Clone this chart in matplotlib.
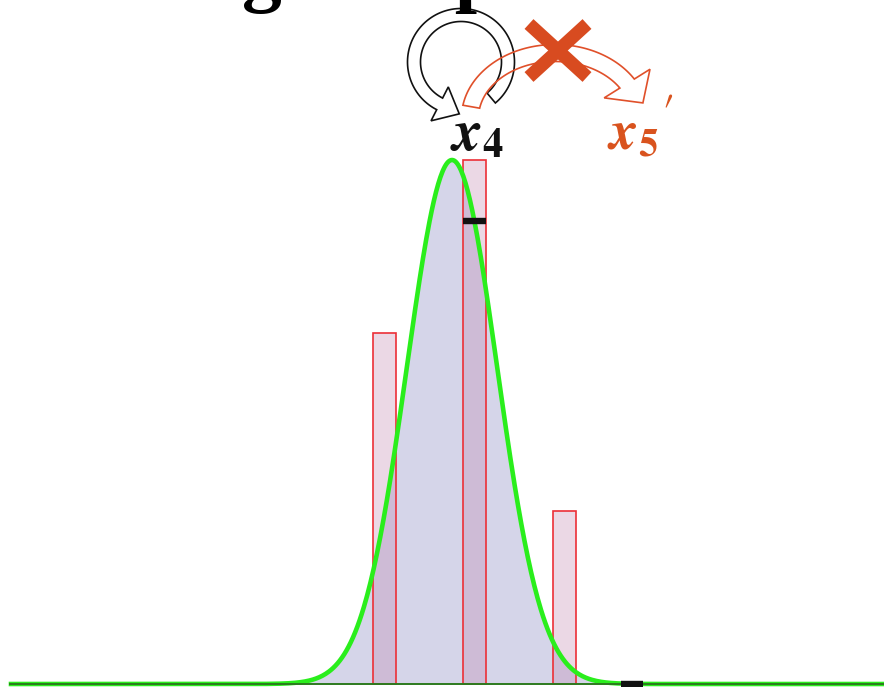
import numpy as np
import matplotlib
matplotlib.use("Agg")
import matplotlib.pyplot as plt
from matplotlib.patches import Polygon

plt.rcParams['mathtext.fontset'] = 'stix'

# ---- data (x in units of sigma, y scaled so the density peak is 1) ----
mu = 0.0
sigma = 1.0
bar_x = [-1.5, 0.5, 2.5]
bar_heights = [0.67, 1.0, 0.33]
bar_width = 0.5
mark_x = [0.5, 4.0]
mark_y = [0.884, 0.0]
title = "Taking a step"
# -----------------------------------------------------------------------

fig = plt.figure(figsize=(8.84, 6.87), dpi=100)
ax = fig.add_axes([0, 0, 1, 1])
ax.set_xlim(-452 / 45, 432 / 45)
ax.set_ylim(-3 / 524, 684 / 524)
ax.axis('off')

xs = np.linspace(-9.8, 9.6, 800)
dens = np.exp(-0.5 * ((xs - mu) / sigma) ** 2)

ax.fill_between(xs, 0, dens, color='#d5d5e9', lw=0, zorder=1)
ax.bar(bar_x, bar_heights, width=bar_width, facecolor=(0.75, 0.5, 0.67, 0.3),
       edgecolor='#ec2f37', lw=1.2, zorder=2)
ax.plot(xs, dens, color='#2aee1c', lw=3.3, zorder=3)
ax.axhline(0, xmin=10 / 884, color='#2d7a1f', lw=1.4, zorder=4)

for mx, my in zip(mark_x, mark_y):
    ax.plot([mx - bar_width / 2, mx + bar_width / 2], [my, my], color='#111111',
            lw=4.6, solid_capstyle='butt', zorder=5)

# overlay in pixel coordinates for the arrows and labels
ov = fig.add_axes([0, 0, 1, 1], facecolor='none')
ov.set_xlim(0, 884)
ov.set_ylim(687, 0)
ov.axis('off')


def arc_arrow(cx, cy, rx, ry, t0, t1, w, hw, hl, n=120):
    t = np.radians(np.linspace(t0, t1, n))
    outer = np.c_[cx + (rx + w / 2) * np.cos(t), cy - (ry + w / 2) * np.sin(t)]
    inner = np.c_[cx + (rx - w / 2) * np.cos(t), cy - (ry - w / 2) * np.sin(t)]
    te = t[-1]
    c = np.array([cx + rx * np.cos(te), cy - ry * np.sin(te)])
    d = np.sign(t1 - t0) * np.array([-rx * np.sin(te), -ry * np.cos(te)])
    d = d / np.hypot(*d)
    r = np.array([np.cos(te), -np.sin(te)])
    head = [c + hw * r, c + hl * d, c - hw * r]
    return np.vstack([outer, head, inner[::-1]])


ov.add_patch(Polygon(arc_arrow(461, 62, 47, 47, -50, 243, 13, 19, 22),
                     closed=True, facecolor='none', edgecolor='#111111', lw=1.2))
ov.add_patch(Polygon(arc_arrow(555, 118, 85, 65, 170, 32, 17, 27, 25),
                     closed=True, facecolor='none', edgecolor='#e0502a', lw=1.2))

ov.plot([529, 587], [24, 77], color='#d84b20', lw=9.5, solid_capstyle='butt')
ov.plot([529, 587], [77, 24], color='#d84b20', lw=9.5, solid_capstyle='butt')

ov.text(477, 134, r'$\mathbfit{x}_{\mathbf{4}}$', fontsize=42, color='#111111',
        ha='center', va='center')
ov.text(633, 134, r'$\mathbfit{x}_{\mathbf{5}}$', fontsize=40, color='#d9531e',
        ha='center', va='center')
ov.text(667, 113, r'$\prime$', fontsize=34, color='#d9531e',
        ha='center', va='center')

fig.text(45 / 884, 1 + 3 / 687, title, fontfamily='Liberation Serif',
         fontweight='bold', fontsize=57.5, ha='left', va='baseline')

fig.savefig('out.png', dpi=100)
